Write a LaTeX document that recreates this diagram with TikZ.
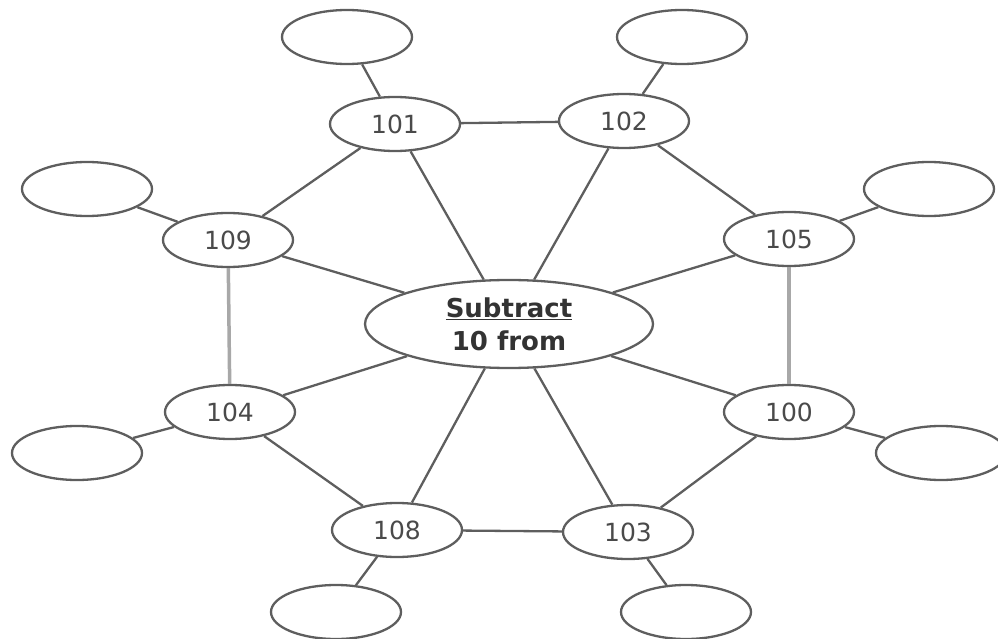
\documentclass[tikz,border=0pt]{standalone}
\usepackage{fontspec}
\setmainfont{DejaVu Sans}
\usetikzlibrary{shapes.geometric}
\definecolor{linegray}{HTML}{5E5E5E}
\definecolor{lightgray2}{HTML}{A8A8A8}
\definecolor{textgray}{HTML}{4A4A4A}
\begin{document}
\begin{tikzpicture}[x=1pt,y=-1pt,
  bubble/.style={ellipse,draw=linegray,line width=2.3pt,minimum width=130pt,minimum height=54pt,inner sep=0pt,fill=white,text=textgray,font=\fontsize{25}{27}\selectfont},
  hub/.style={ellipse,draw=linegray,line width=2.3pt,minimum width=288pt,minimum height=88pt,inner sep=0pt,fill=white,align=center,text=black!80,font=\bfseries\fontsize{26}{33}\selectfont},
  link/.style={draw=linegray,line width=2.3pt},
  thick link/.style={draw=lightgray2,line width=3.5pt}]
\useasboundingbox (0,0) rectangle (998,639);
\node[hub] (c) at (509,324) {\underline{Subtract}\\10 from};
\node[bubble] (n101) at (395,124) {101};
\node[bubble] (n102) at (624,121) {102};
\node[bubble] (n109) at (228,240) {109};
\node[bubble] (n105) at (789,239) {105};
\node[bubble] (n104) at (230,412) {104};
\node[bubble] (n100) at (789,412) {100};
\node[bubble] (n108) at (397,530) {108};
\node[bubble] (n103) at (628,532) {103};
\node[bubble] (e101) at (347,37) {};
\node[bubble] (e102) at (682,37) {};
\node[bubble] (e109) at (87,189) {};
\node[bubble] (e105) at (929,189) {};
\node[bubble] (e104) at (77,453) {};
\node[bubble] (e100) at (941,453) {};
\node[bubble] (e108) at (336,612) {};
\node[bubble] (e103) at (686,612) {};
% connectors
\foreach \n in {101,102,109,105,104,100,108,103}{
  \draw[link] (c) -- (n\n);
  \draw[link] (n\n) -- (e\n);
}
\draw[link] (n101) -- (n102);
\draw[link] (n102) -- (n105);
\draw[thick link] (n105) -- (n100);
\draw[link] (n100) -- (n103);
\draw[link] (n103) -- (n108);
\draw[link] (n108) -- (n104);
\draw[thick link] (n104) -- (n109);
\draw[link] (n109) -- (n101);
\end{tikzpicture}
\end{document}
